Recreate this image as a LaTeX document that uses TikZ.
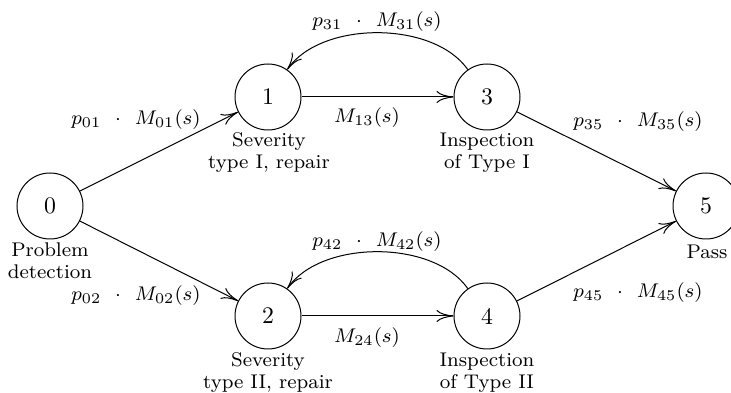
\documentclass[tikz,border=0pt]{standalone}
\usepackage{graphicx}
\usetikzlibrary{arrows.meta}
\newcommand{\stnum}[1]{\scalebox{2.475}{\fontsize{9.6}{11}\selectfont #1}}
\begin{document}
\begin{tikzpicture}[x=1pt,y=1pt,
  state/.style={circle,draw,line width=1pt,minimum size=66pt,inner sep=0pt},
  lbl/.style={align=center,inner sep=0pt,scale=2.475,transform shape,font=\fontsize{8}{8.9}\selectfont},
  elbl/.style={inner sep=0pt,scale=2.475,transform shape,font=\fontsize{8}{8.9}\selectfont},
  arr/.style={line width=1pt,-{Computer Modern Rightarrow[length=17pt,width=12pt]}}]
\useasboundingbox (0,0) rectangle (731,393);
\node[state] (n0) at (50,187) {\stnum{0}};
\node[state] (n1) at (268,296) {\stnum{1}};
\node[state] (n3) at (487,296) {\stnum{3}};
\node[state] (n2) at (268,77) {\stnum{2}};
\node[state] (n4) at (487,77) {\stnum{4}};
\node[state] (n5) at (706,187) {\stnum{5}};
\node[lbl,anchor=north] (l0) at (50,151) {Problem\\detection};
\node[lbl,anchor=north] (l1) at (269,261) {Severity\\type I, repair};
\node[lbl,anchor=north] (l3) at (487,261) {Inspection\\of Type I};
\node[lbl,anchor=north] (l2) at (268,41) {Severity\\type II, repair};
\node[lbl,anchor=north] (l4) at (487,41) {Inspection\\of Type II};
\node[lbl,anchor=north] (l5) at (707,149) {Pass};
\draw[arr] (n0) -- (n1);
\draw[arr] (n0) -- (n2);
\draw[arr] (n1) -- (n3);
\draw[arr] (n2) -- (n4);
\draw[arr] (n3) -- (n5);
\draw[arr] (n4) -- (n5);
\draw[arr] (n3) to[out=125,in=55,looseness=0.85] (n1);
\draw[arr] (n4) to[out=125,in=55,looseness=0.85] (n2);
\node[elbl] (e01) at (136,273) {$p_{01}\hspace{0.7em}{\cdot}\hspace{0.7em}M_{01}(s)$};
\node[elbl] (e13) at (367,275) {$M_{13}(s)$};
\node[elbl] (e31) at (377,371) {$p_{31}\hspace{0.7em}{\cdot}\hspace{0.7em}M_{31}(s)$};
\node[elbl] (e35) at (638,271) {$p_{35}\hspace{0.7em}{\cdot}\hspace{0.7em}M_{35}(s)$};
\node[elbl] (e02) at (136,97) {$p_{02}\hspace{0.7em}{\cdot}\hspace{0.7em}M_{02}(s)$};
\node[elbl] (e24) at (367,55) {$M_{24}(s)$};
\node[elbl] (e42) at (377,151) {$p_{42}\hspace{0.7em}{\cdot}\hspace{0.7em}M_{42}(s)$};
\node[elbl] (e45) at (638,100) {$p_{45}\hspace{0.7em}{\cdot}\hspace{0.7em}M_{45}(s)$};
\end{tikzpicture}
\end{document}
